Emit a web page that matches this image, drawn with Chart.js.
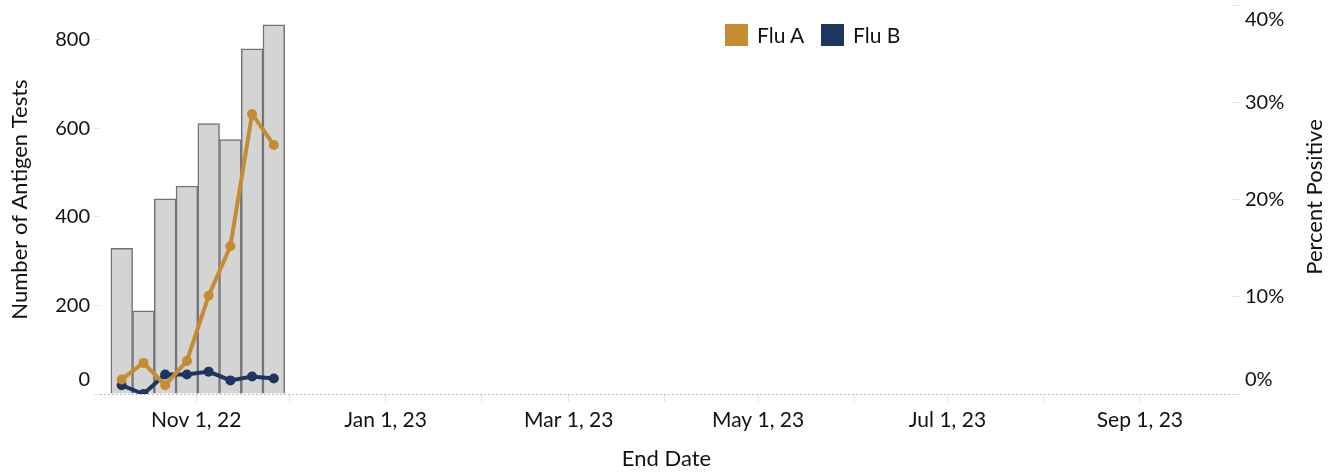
<!DOCTYPE html>
<html>
<head>
<meta charset="utf-8">
<script src="https://cdn.jsdelivr.net/npm/chart.js@4"></script>
<style>
  body { margin: 0; background: #fff; font-family: Lato, sans-serif; }
  #wrap { position: relative; width: 1338px; height: 472px; }
  .leg { position: absolute; top: 22px; display: flex; align-items: center; font-size: 21px; color: #111; }
  .leg span.sw { display: inline-block; width: 23px; height: 22px; margin-right: 9px; }
</style>
</head>
<body>
<div id="wrap">
  <canvas id="fluChart"></canvas>
  <div class="leg" style="left:725px"><span class="sw" style="background:#c58c34"></span>Flu A</div>
  <div class="leg" style="left:821px"><span class="sw" style="background:#1d365f"></span>Flu B</div>
</div>
<script>
// data
const endDates = ['2022-10-08', '2022-10-15', '2022-10-22', '2022-10-29', '2022-11-05', '2022-11-12', '2022-11-19', '2022-11-26'];
const antigenTests = [329, 188, 441, 470, 611, 575, 780, 834];
const fluA = [1.5, 3.2, 0.9, 3.4, 10.1, 15.2, 28.8, 25.6];
const fluB = [0.9, 0, 2.0, 2.0, 2.3, 1.4, 1.8, 1.6];

const tickDates = ['2022-11-01', '2022-12-01', '2023-01-01', '2023-02-01', '2023-03-01', '2023-04-01',
    '2023-05-01', '2023-06-01', '2023-07-01', '2023-08-01', '2023-09-01'];
const tickLabels = ['Nov 1, 22', '', 'Jan 1, 23', '', 'Mar 1, 23', '', 'May 1, 23', '', 'Jul 1, 23', '', 'Sep 1, 23'];

const xMin = Date.parse('2022-10-01');
const xMax = Date.parse('2023-10-01');

const toPoints = (vals) => vals.map((v, i) => ({ x: Date.parse(endDates[i]), y: v }));

const family = 'Lato, sans-serif';
const tickFont = { family, size: 20 };
const xTickFont = { family, size: 21 };
const titleFont = { family, size: 22 };
const textColor = '#111';

// buang padding otomatis supaya area plot pas
const fixPad = (s) => { s.paddingTop = 0; s.paddingBottom = 0; s.paddingLeft = 0; s.paddingRight = 0; };

// label 0 dan 40% digeser seperti gaya Tableau
const edgeLabels = {
    id: 'edgeLabels',
    beforeDraw(chart) {
        const shifts = { y: { '0': -14 }, y1: { '0%': -14, '40%': 15 } };
        Object.keys(shifts).forEach(id => {
            const items = chart.scales[id].getLabelItems();
            items.forEach(it => {
                const d = shifts[id][it.label];
                if (d && !it._shifted) {
                    it.options.translation[1] += d;
                    it._shifted = true;
                }
            });
        });
    }
};

const rightTitle = {
    id: 'rightTitle',
    afterDraw(chart) {
        const ctx = chart.ctx;
        ctx.save();
        ctx.translate(1315, 197);
        ctx.rotate(-Math.PI / 2);
        ctx.font = `${titleFont.size}px ${family}`;
        ctx.fillStyle = textColor;
        ctx.textAlign = 'center';
        ctx.textBaseline = 'middle';
        ctx.fillText('Percent Positive', 0, 0);
        ctx.restore();
    }
};

new Chart(document.getElementById('fluChart'), {
    type: 'bar',
    data: {
        datasets: [
            {
                type: 'line', label: 'Flu A', data: toPoints(fluA), yAxisID: 'y1', order: 1,
                borderColor: '#c58c34', backgroundColor: '#c58c34', borderWidth: 4,
                pointRadius: 5, pointBackgroundColor: '#c58c34', pointBorderWidth: 0
            },
            {
                type: 'line', label: 'Flu B', data: toPoints(fluB), yAxisID: 'y1', order: 1,
                borderColor: '#1d365f', backgroundColor: '#1d365f', borderWidth: 4,
                pointRadius: 5, pointBackgroundColor: '#1d365f', pointBorderWidth: 0
            },
            {
                type: 'bar', label: 'Antigen Tests', data: toPoints(antigenTests), yAxisID: 'y', order: 2,
                backgroundColor: '#d4d4d4', borderColor: '#737373', borderWidth: 1.5,
                categoryPercentage: 1, barPercentage: 1
            }
        ]
    },
    options: {
        responsive: true,
        maintainAspectRatio: false,
        animation: false,
        layout: { padding: { top: 5, left: 0, right: 0, bottom: 0 } },
        plugins: { legend: { display: false }, tooltip: { enabled: false } },
        scales: {
            x: {
                type: 'linear',
                min: xMin,
                max: xMax,
                offset: false,
                bounds: 'data',
                afterBuildTicks: (s) => { s.ticks = tickDates.map(d => ({ value: Date.parse(d) })); },
                afterFit: (s) => { s.height = 78; fixPad(s); },
                ticks: {
                    autoSkip: false, maxRotation: 0, padding: 6, color: textColor, font: xTickFont,
                    callback: (v, i) => tickLabels[i]
                },
                grid: { offset: false, drawOnChartArea: false, drawTicks: true, tickLength: 8, tickColor: '#e2e2e2' },
                border: { display: false },
                title: { display: true, text: 'End Date', color: textColor, font: titleFont, padding: { top: 0, bottom: 0 } }
            },
            y: {
                position: 'left',
                min: 0,
                max: 879,
                afterFit: (s) => { s.width = 100; fixPad(s); },
                ticks: { stepSize: 200, includeBounds: false, padding: 4, color: textColor, font: tickFont },
                grid: {
                    drawTicks: true, tickLength: 6, tickColor: '#e2e2e2',
                    color: (c) => (c.tick && c.tick.value === 0 ? '#bdbdbd' : 'transparent')
                },
                border: { display: false, dash: [2, 2] },
                title: { display: true, text: 'Number of Antigen Tests', color: textColor, font: titleFont, padding: { top: 7, bottom: 0 } }
            },
            y1: {
                position: 'right',
                min: 0,
                max: 40,
                afterFit: (s) => { s.width = 105; fixPad(s); },
                ticks: { stepSize: 10, padding: 5, color: textColor, font: tickFont, callback: (v) => v + '%' },
                grid: { drawOnChartArea: false, drawTicks: true, tickLength: 7, tickColor: '#e2e2e2' },
                border: { display: false }
            }
        }
    },
    plugins: [edgeLabels, rightTitle]
});
</script>
</body>
</html>
